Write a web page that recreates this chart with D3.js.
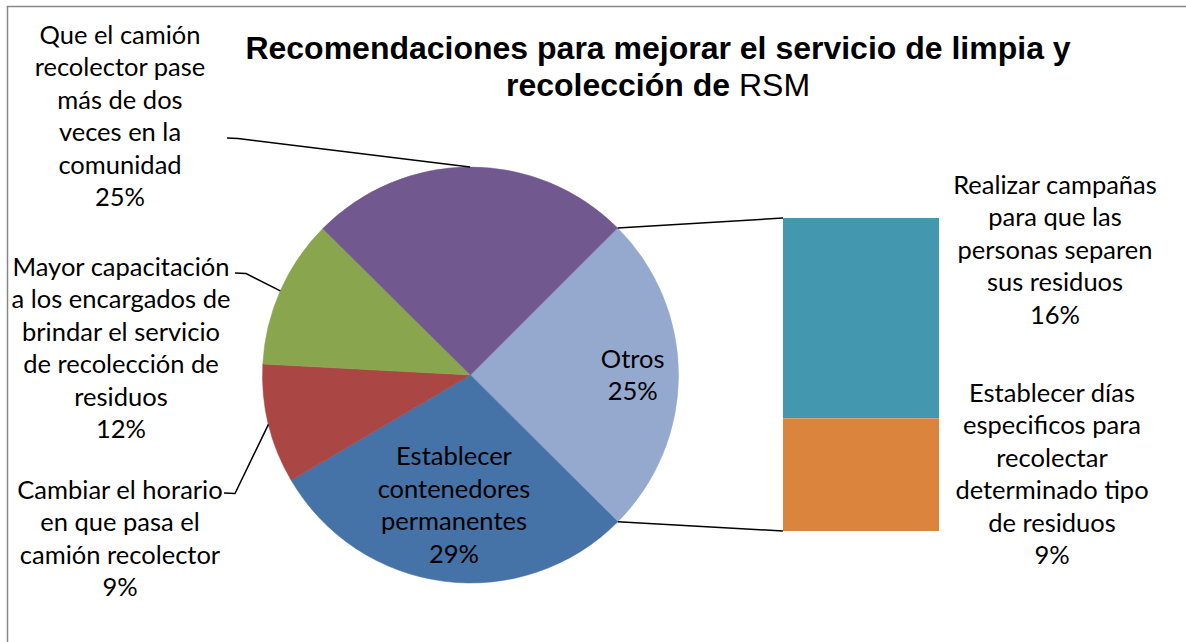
<!DOCTYPE html>
<html>
<head>
<meta charset="utf-8">
<script src="https://cdn.jsdelivr.net/npm/d3@7"></script>
<style>
  body { margin: 0; background: #fff; }
  svg { display: block; }
  .lbl { font-family: Lato, "Open Sans", sans-serif; font-size: 25.5px; fill: #000; }
  .title { font-family: "Liberation Sans", Arial, sans-serif; font-size: 32px; fill: #000; }
</style>
</head>
<body>
<div id="figure-container"></div>
<script>
// primary pie: "Otros" first, then clockwise
var categories = [
  'Otros',
  'Establecer\ncontenedores\npermanentes',
  'Cambiar el horario\nen que pasa el\ncamión recolector',
  'Mayor capacitación\na los encargados de\nbrindar el servicio\nde recolección de\nresiduos',
  'Que el camión\nrecolector pase\nmás de dos\nveces en la\ncomunidad'
];
var values = [null, 29.1, 9.3, 11.6, 25.1];   // Otros = sum of the bar below

// secondary stacked bar (splits "Otros")
var subCategories = [
  'Realizar campañas\npara que las\npersonas separen\nsus residuos',
  'Establecer días\nespecificos para\nrecolectar\ndeterminado tipo\nde residuos'
];
var subValues = [16, 9];

var colors = ['#95A9CF', '#4572A7', '#AA4643', '#89A54E', '#71588F'];
var subColors = ['#4398AF', '#DB843D'];

values[0] = d3.sum(subValues);
var total = d3.sum(values);
var pct = d3.format('.0%');

var width = 1186, height = 642;
var cx = 470.5, cy = 375, r = 208;
var lineH = 32.4;

var svg = d3.select('#figure-container')
  .append('svg')
  .attr('width', width)
  .attr('height', height);

// chart border (left + top only visible)
svg.append('path')
  .attr('d', 'M7.5,' + height + 'V6.5H' + width)
  .attr('fill', 'none')
  .attr('stroke', '#878787')
  .attr('stroke-width', 1.5);

// title
var title = svg.append('text').attr('class', 'title').attr('text-anchor', 'middle');
title.append('tspan').attr('x', 658).attr('y', 59).attr('font-weight', 'bold')
  .text('Recomendaciones para mejorar el servicio de limpia y');
var t2 = title.append('tspan').attr('x', 658).attr('y', 96);
t2.append('tspan').attr('font-weight', 'bold').text('recolección de ');
t2.append('tspan').text('RSM');

var pie = d3.pie().sort(null).value(function(d) { return d; })
  .startAngle(Math.PI / 4).endAngle(Math.PI / 4 + 2 * Math.PI);
var arcs = pie(values);
var arc = d3.arc().innerRadius(0).outerRadius(r);

var g = svg.append('g').attr('transform', 'translate(' + cx + ',' + cy + ')');
g.selectAll('path.slice')
  .data(arcs)
  .enter().append('path')
  .attr('class', 'slice')
  .attr('d', arc)
  .attr('fill', function(d, i) { return colors[i]; })
  .attr('stroke', function(d, i) { return colors[i]; })
  .attr('stroke-width', 0.5);

function onArc(a, rad) {
  return [cx + rad * Math.sin(a), cy - rad * Math.cos(a)];
}

function multiline(sel, lines, x, y0) {
  var t = sel.append('text').attr('class', 'lbl').attr('text-anchor', 'middle');
  lines.forEach(function(s, j) {
    t.append('tspan').attr('x', x).attr('y', y0 + j * lineH).attr('dy', '0.35em').text(s);
  });
  return t;
}

// label placement per slice: inside ones by radius fraction, outside ones by block position
var labelPos = [
  {inside: 0.78},
  {inside: 0.63},
  {x: 120, y: 490, from: [224, 493]},
  {x: 121, y: 267, from: [235, 273]},
  {x: 120, y: 35, from: [227, 138]}
];

arcs.forEach(function(d, i) {
  var lines = categories[i].split('\n').concat([pct(d.value / total)]);
  var p = labelPos[i];
  var mid = (d.startAngle + d.endAngle) / 2;
  if (p.inside) {
    var c = onArc(mid, r * p.inside);
    multiline(svg, lines, c[0], c[1] - (lines.length - 1) * lineH / 2);
  } else {
    multiline(svg, lines, p.x, p.y);
    var e = onArc(mid, r);
    svg.append('path')
      .attr('d', d3.line()([p.from, [p.from[0] + 11, p.from[1] + 0.5], e]))
      .attr('fill', 'none')
      .attr('stroke', '#000')
      .attr('stroke-width', 1.5);
  }
});

// secondary bar
var barX = 783, barW = 156;
var yScale = d3.scaleLinear().domain([0, d3.sum(subValues)]).range([218, 531]);
var stacked = [];
var acc = 0;
subValues.forEach(function(v, i) { stacked.push({v: v, y0: acc, y1: acc + v, i: i}); acc += v; });

svg.selectAll('rect.sub')
  .data(stacked)
  .enter().append('rect')
  .attr('class', 'sub')
  .attr('x', barX)
  .attr('y', function(d) { return yScale(d.y0); })
  .attr('width', barW)
  .attr('height', function(d) { return yScale(d.y1) - yScale(d.y0); })
  .attr('fill', function(d) { return subColors[d.i]; });

// connector lines from "Otros" slice edges to bar corners
var o = arcs[0];
var pTop = onArc(o.startAngle, r), pBot = onArc(o.endAngle, r);
svg.append('path')
  .attr('d', d3.line()([pTop, [barX, yScale(0)]]))
  .attr('stroke', '#000').attr('stroke-width', 1.5).attr('fill', 'none');
svg.append('path')
  .attr('d', d3.line()([pBot, [barX, yScale(d3.sum(subValues))]]))
  .attr('stroke', '#000').attr('stroke-width', 1.5).attr('fill', 'none');

var subLabelPos = [{x: 1055, y: 185}, {x: 1052, y: 393}];
stacked.forEach(function(d, i) {
  var lines = subCategories[i].split('\n').concat([pct(d.v / total)]);
  multiline(svg, lines, subLabelPos[i].x, subLabelPos[i].y);
});
</script>
</body>
</html>
